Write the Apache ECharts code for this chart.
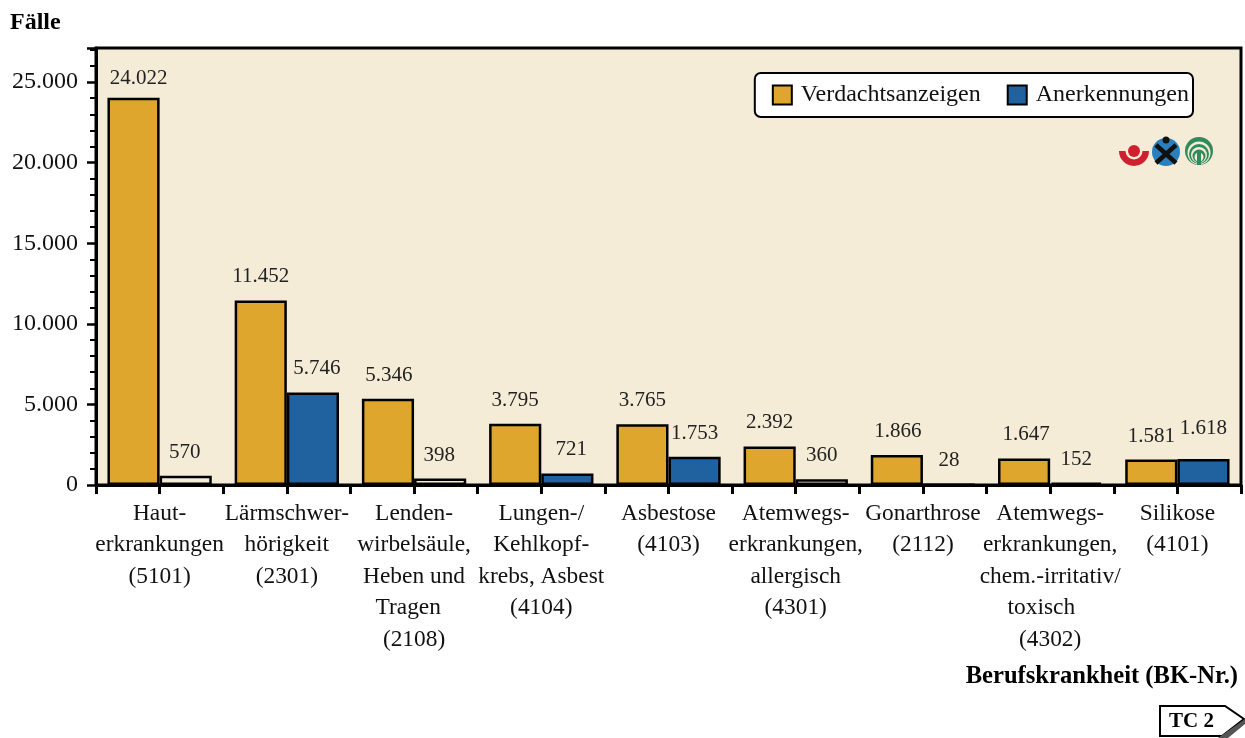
<!DOCTYPE html>
<html>
<head>
<meta charset="utf-8">
<style>html,body{margin:0;padding:0;background:#fff}#chart{width:1245px;height:738px}</style>
<script src="https://cdn.jsdelivr.net/npm/echarts@6/dist/echarts.min.js"></script>
</head>
<body>
<div id="chart"></div>
<script>
const categories = [
  'Haut-\nerkrankungen\n(5101)',
  'Lärmschwer-\nhörigkeit\n(2301)',
  'Lenden-\nwirbelsäule,\nHeben und\nTragen  \n(2108)',
  'Lungen-/\nKehlkopf-\nkrebs, Asbest\n(4104)',
  'Asbestose\n(4103)',
  'Atemwegs-\nerkrankungen,\nallergisch\n(4301)',
  'Gonarthrose\n(2112)',
  'Atemwegs-\nerkrankungen,\nchem.-irritativ/\ntoxisch   \n(4302)',
  'Silikose\n(4101)'
];
const verdachtsanzeigen = [24022, 11452, 5346, 3795, 3765, 2392, 1866, 1647, 1581];
const anerkennungen = [570, 5746, 398, 721, 1753, 360, 28, 152, 1618];
// the source leaves some of the small bars unfilled
const anerkennungenFill = ['#f5ecd7', '#20619f', '#f5ecd7', '#20619f', '#20619f', '#f5ecd7', '#000', '#000', '#20619f'];
const verdachtNudge = [[5, 4], [0, 0], [1, 0], [0, 0], [0, 0], [0, 0], [1, 0], [2, 0], [0, 0]];
const anerkennungNudge = [[-1, 0], [4, 0], [-1, 0], [4, 0], [0, 0], [0, 0], [0, 0], [0, 0], [0, -7]];
const tickSlots = new Array(categories.length * 2).fill('');

const serif = '"Liberation Serif", "Times New Roman", serif';
const fmt = v => String(v).replace(/\B(?=(\d{3})+$)/g, '.');
const cream = '#f5ecd7';

const chart = echarts.init(document.getElementById('chart'), null, { renderer: 'canvas' });

const barLabel = {
  show: true,
  position: 'top',
  distance: 13,
  fontFamily: serif,
  fontSize: 21,
  color: '#222',
  formatter: p => fmt(p.value)
};

chart.setOption({
  animation: false,
  backgroundColor: '#fff',
  title: [
    { text: 'Fälle', left: 5, top: 6, textStyle: { fontFamily: serif, fontSize: 24, fontWeight: 'bold', color: '#000' } },
    { text: 'Berufskrankheit (BK-Nr.)', right: 2, top: 659, textStyle: { fontFamily: serif, fontSize: 24.6, fontWeight: 'bold', color: '#000' } }
  ],
  grid: {
    show: true,
    left: 96,
    right: 4,
    top: 48,
    height: 437,
    backgroundColor: cream,
    borderColor: '#000',
    borderWidth: 3
  },
  legend: {
    right: 52,
    top: 73,
    icon: 'rect',
    itemWidth: 19,
    itemHeight: 19,
    itemGap: 26,
    padding: [10, 4, 10, 17],
    backgroundColor: '#fff',
    borderColor: '#000',
    borderWidth: 2,
    borderRadius: 6,
    textStyle: { fontFamily: serif, fontSize: 24, color: '#111', padding: [0, 0, 0, 4] },
    data: ['Verdachtsanzeigen', { name: 'Anerkennungen', itemStyle: { color: '#20619f' } }]
  },
  xAxis: [
    {
      type: 'category',
      data: categories,
      axisLine: { lineStyle: { color: '#000', width: 3 } },
      axisTick: { show: false },
      axisLabel: {
        interval: 0,
        margin: 13,
        fontFamily: serif,
        fontSize: 23.4,
        lineHeight: 31.5,
        color: '#111',
        align: 'center',
        verticalAlign: 'top',
        hideOverlap: false
      }
    },
    {
      // half-category tick marks
      type: 'category',
      position: 'bottom',
      data: tickSlots,
      axisLine: { show: false },
      axisLabel: { show: false },
      axisTick: { show: true, length: 9, lineStyle: { color: '#000', width: 3 }, interval: 0 }
    }
  ],
  yAxis: {
    type: 'value',
    min: 0,
    max: 27114,
    interval: 5000,
    axisLine: { show: true, lineStyle: { color: '#000', width: 3 } },
    axisTick: { show: true, length: 9, lineStyle: { color: '#000', width: 2.5 } },
    minorTick: { show: true, splitNumber: 5, length: 6, lineStyle: { color: '#000', width: 2 } },
    splitLine: { show: false },
    axisLabel: {
      margin: 18,
      showMaxLabel: false,
      fontFamily: serif,
      fontSize: 24,
      color: '#111',
      padding: [2, 0, 0, 0],
      formatter: fmt
    }
  },
  series: [
    {
      name: 'Verdachtsanzeigen',
      type: 'bar',
      barGap: 0,
      barCategoryGap: '18%',
      itemStyle: { color: '#dea62c', borderColor: '#000', borderWidth: 2.5 },
      label: barLabel,
      data: verdachtsanzeigen.map((v, i) => ({ value: v, label: { offset: verdachtNudge[i] } }))
    },
    {
      name: 'Anerkennungen',
      type: 'bar',
      itemStyle: { color: '#20619f', borderColor: '#000', borderWidth: 2.5 },
      label: barLabel,
      data: anerkennungen.map((v, i) => ({
        value: v,
        itemStyle: { color: anerkennungenFill[i] },
        label: { offset: anerkennungNudge[i] }
      }))
    }
  ],
  graphic: [
    // institution logos
    { type: 'sector', shape: { cx: 1134, cy: 151, r: 15, r0: 0, startAngle: 0, endAngle: Math.PI }, style: { fill: '#cf2030' }, z: 10 },
    { type: 'circle', shape: { cx: 1134, cy: 151, r: 8.5 }, style: { fill: cream }, z: 11 },
    { type: 'circle', shape: { cx: 1134, cy: 151, r: 6 }, style: { fill: '#cf2030' }, z: 12 },
    { type: 'circle', shape: { cx: 1166, cy: 152, r: 14 }, style: { fill: '#2a80bd' }, z: 10 },
    { type: 'polyline', shape: { points: [[1156, 145], [1176, 163]] }, style: { stroke: '#111', lineWidth: 4.5, fill: null }, z: 11 },
    { type: 'polyline', shape: { points: [[1176, 145], [1156, 163]] }, style: { stroke: '#111', lineWidth: 4.5, fill: null }, z: 11 },
    { type: 'circle', shape: { cx: 1166, cy: 140, r: 3.5 }, style: { fill: '#111' }, z: 12 },
    { type: 'circle', shape: { cx: 1199, cy: 151, r: 14 }, style: { fill: '#2f8a5c' }, z: 10 },
    { type: 'circle', shape: { cx: 1199, cy: 153, r: 11.5 }, style: { fill: cream }, z: 11 },
    { type: 'circle', shape: { cx: 1199, cy: 154, r: 10 }, style: { fill: '#2f8a5c' }, z: 12 },
    { type: 'circle', shape: { cx: 1199, cy: 155, r: 8 }, style: { fill: cream }, z: 13 },
    { type: 'circle', shape: { cx: 1199, cy: 156, r: 6.5 }, style: { fill: '#2f8a5c' }, z: 14 },
    { type: 'circle', shape: { cx: 1199, cy: 157, r: 4.5 }, style: { fill: cream }, z: 15 },
    { type: 'rect', shape: { x: 1197, y: 152, width: 4, height: 13 }, style: { fill: '#2f8a5c' }, z: 16 },
    // TC tag
    { type: 'polygon', shape: { points: [[1245, 719], [1245, 724], [1228, 738], [1218, 738]] }, style: { fill: '#555' }, z: 12 },
    { type: 'polygon', shape: { points: [[1160, 706], [1225, 706], [1244, 719], [1222, 736], [1160, 736]] }, style: { fill: '#fff', stroke: '#000', lineWidth: 2 }, z: 11 },
    { type: 'text', left: 1169, top: 711, style: { text: 'TC 2', fontFamily: serif, fontSize: 21, fontWeight: 'bold', fill: '#000' }, z: 12 }
  ]
});
</script>
</body>
</html>
